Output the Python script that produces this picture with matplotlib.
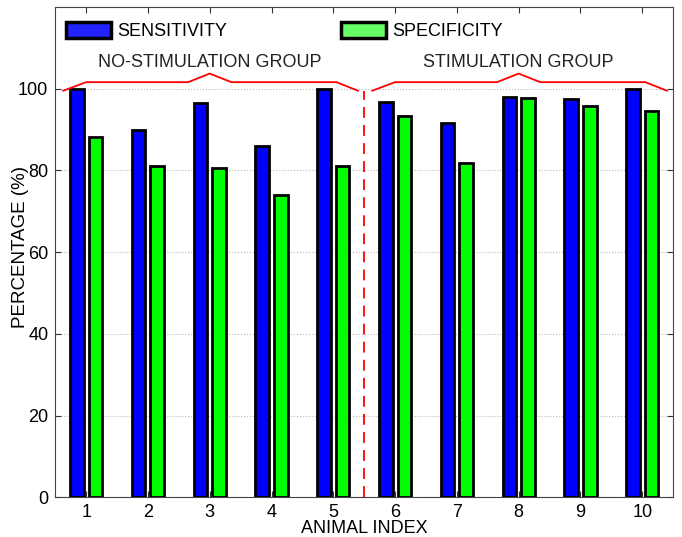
import numpy as np
import matplotlib.pyplot as plt
from matplotlib.patches import Patch

plt.rcParams['font.family'] = ['Liberation Sans', 'DejaVu Sans']

animals = np.arange(1, 11)
sensitivity = [100.0, 90.0, 96.5, 86.0, 100.0, 96.7, 91.6, 97.9, 97.5, 100.0]
specificity = [88.1, 81.1, 80.6, 74.1, 81.1, 93.2, 81.7, 97.7, 95.8, 94.6]
groups = [("NO-STIMULATION GROUP", 1, 5), ("STIMULATION GROUP", 6, 10)]
yticks = [0, 20, 40, 60, 80, 100]

def brace(ax, lo, hi, y0=99.5, y1=101.6, y2=103.7):
    mid = (lo + hi) / 2.0
    xs = [lo - 0.37, lo, mid - 0.35, mid, mid + 0.35, hi + 0.05, hi + 0.4]
    ys = [y0, y1, y1, y2, y1, y1, y0]
    ax.plot(xs, ys, color='red', lw=1.3, clip_on=False, zorder=4)

fig = plt.figure(figsize=(6.82, 5.37), dpi=100)
ax = fig.add_axes([0.081, 0.074, 0.906, 0.913])

w = 0.22
ax.bar(animals - 0.15, sensitivity, w, color='#0000ff', edgecolor='black', lw=2, zorder=3)
ax.bar(animals + 0.15, specificity, w, color='#00ff00', edgecolor='black', lw=2, zorder=3)

for name, lo, hi in groups:
    brace(ax, lo, hi)
    ax.text((lo + hi) / 2.0, 106.3, name, ha='center', va='center', fontsize=13, color='#222222')

split = (groups[0][2] + groups[1][1]) / 2.0
ax.plot([split, split], [0, 99.5], color='red', lw=1.3, ls=(0, (6, 4)), zorder=4)

ax.set_xlim(0.5, 10.5)
ax.set_ylim(0, 120)
ax.set_xticks(animals)
ax.set_yticks(yticks)
ax.tick_params(direction='in', top=True, right=True, labelsize=13, length=4, pad=5,
               colors='#333333', labelcolor='black')
ax.yaxis.grid(True, ls=':', color='#bbbbbb', lw=0.8)
ax.set_axisbelow(True)
for s in ax.spines.values():
    s.set_color('#444444')
ax.set_xlabel('ANIMAL INDEX', fontsize=13, labelpad=-1)
ax.set_ylabel('PERCENTAGE (%)', fontsize=13.5)
ax.yaxis.set_label_coords(-0.042, 0.51)

handles = [Patch(facecolor='#2222ff', edgecolor='black', lw=2.5),
           Patch(facecolor='#66ff66', edgecolor='black', lw=2.5)]
ax.legend(handles, ['SENSITIVITY', 'SPECIFICITY'], ncol=2, loc='upper left',
          bbox_to_anchor=(0.017, 0.969), frameon=False, fontsize=13,
          borderpad=0, borderaxespad=0,
          handlelength=2.5, handleheight=0.95, columnspacing=6.3, handletextpad=0.35)

fig.savefig('out.png', dpi=100)
